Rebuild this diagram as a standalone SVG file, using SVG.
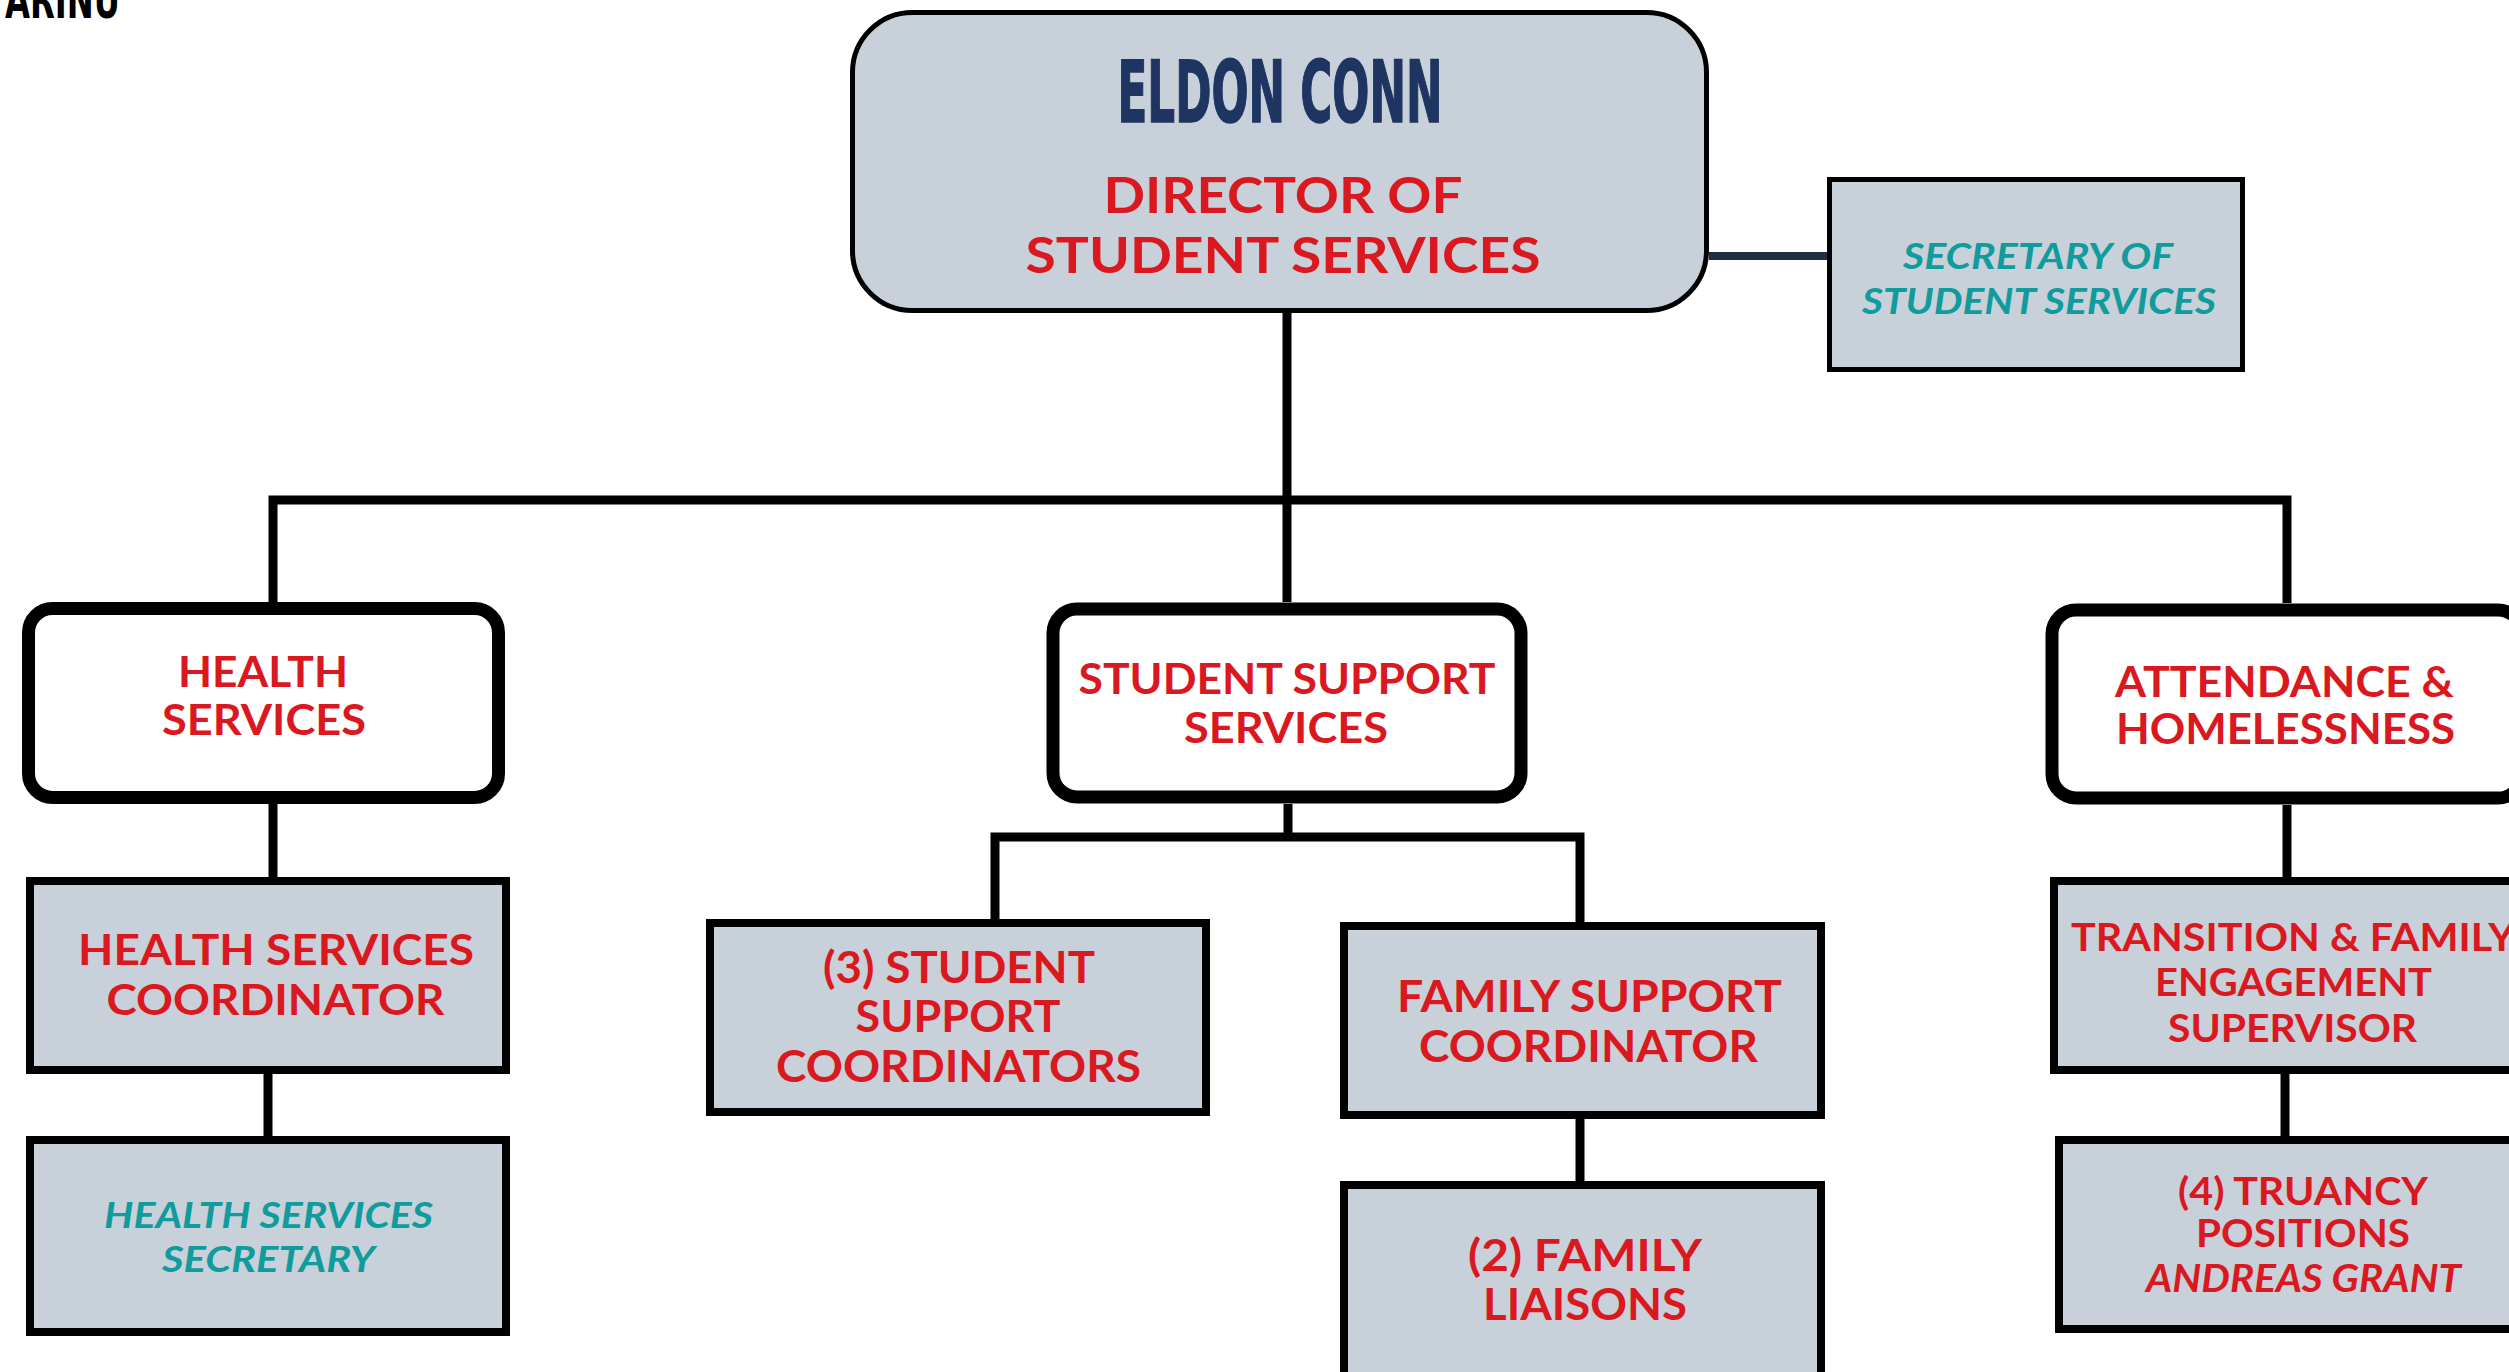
<svg xmlns="http://www.w3.org/2000/svg" width="2509" height="1372" viewBox="0 0 2509 1372">
<style>
.bg{fill:#ffffff}
.grey{fill:#c8d0d9;stroke:#000;}
.white{fill:#ffffff;stroke:#000;stroke-width:13}
.sq{stroke-width:8}
.lbl{font-family:Lato,"Open Sans","Liberation Sans",sans-serif;font-weight:bold;fill:#da1820;text-anchor:middle}
.teal{font-family:Lato,"Open Sans","Liberation Sans",sans-serif;font-weight:bold;font-style:italic;fill:#109b9c;text-anchor:middle}
.conn{fill:none;stroke:#000;stroke-width:9;stroke-linejoin:miter}
</style>
<rect class="bg" x="0" y="0" width="2509" height="1372"/>
<text x="5" y="18" font-family="'DejaVu Sans Condensed','Liberation Sans',sans-serif" font-weight="bold" font-size="52" textLength="115" lengthAdjust="spacingAndGlyphs" fill="#000">ARINU</text>

<g id="connectors">
  <path class="conn" d="M1287,313 V602"/>
  <path class="conn" d="M273,602 V500 H2287 V603"/>
  <path class="conn" d="M273,804 V877"/>
  <path class="conn" d="M268,1074 V1136"/>
  <path class="conn" d="M1288,804 V837"/>
  <path class="conn" d="M995,919 V837 H1580 V922"/>
  <path class="conn" d="M1580,1119 V1181"/>
  <path class="conn" d="M2287,805 V877"/>
  <path class="conn" d="M2285,1074 V1136"/>
  <path d="M1709,256 H1827" fill="none" stroke="#1d2e45" stroke-width="8"/>
</g>

<g id="director">
  <rect class="grey" x="852.5" y="12.5" width="854" height="298" rx="60" stroke-width="5"/>
  <text x="1280" y="122" font-family="'DejaVu Sans Condensed','Liberation Sans',sans-serif" font-weight="bold" font-size="86" textLength="325" lengthAdjust="spacingAndGlyphs" fill="#1e3461" stroke="#1e3461" stroke-width="1.5" text-anchor="middle">ELDON CONN</text>
  <text class="lbl" x="1283" y="213" font-size="50" font-weight="600" textLength="359" lengthAdjust="spacingAndGlyphs">DIRECTOR OF</text>
  <text class="lbl" x="1283" y="273" font-size="50" font-weight="600" textLength="515" lengthAdjust="spacingAndGlyphs">STUDENT SERVICES</text>
</g>

<g id="secretary">
  <rect class="grey" x="1829.5" y="179.5" width="413" height="190" stroke-width="5"/>
  <text class="teal" x="2038" y="269" font-size="36" textLength="270" lengthAdjust="spacingAndGlyphs">SECRETARY OF</text>
  <text class="teal" x="2039" y="314" font-size="36" textLength="354" lengthAdjust="spacingAndGlyphs">STUDENT SERVICES</text>
</g>

<g id="health-services">
  <rect class="white" x="28.5" y="608.5" width="470" height="189" rx="24"/>
  <text class="lbl" x="263" y="687" font-size="42" textLength="170" lengthAdjust="spacingAndGlyphs">HEALTH</text>
  <text class="lbl" x="264" y="735" font-size="42" textLength="204" lengthAdjust="spacingAndGlyphs">SERVICES</text>
</g>

<g id="student-support-services">
  <rect class="white" x="1053" y="609" width="468" height="188" rx="24" stroke-width="14"/>
  <text class="lbl" x="1287" y="694" font-size="42" textLength="417" lengthAdjust="spacingAndGlyphs">STUDENT SUPPORT</text>
  <text class="lbl" x="1286" y="743" font-size="42" textLength="204" lengthAdjust="spacingAndGlyphs">SERVICES</text>
</g>

<g id="attendance">
  <rect class="white" x="2052" y="610" width="470" height="188" rx="24" stroke-width="14"/>
  <text class="lbl" x="2284.5" y="697" font-size="42" textLength="339" lengthAdjust="spacingAndGlyphs">ATTENDANCE &amp;</text>
  <text class="lbl" x="2285.5" y="744" font-size="42" textLength="339" lengthAdjust="spacingAndGlyphs">HOMELESSNESS</text>
</g>

<g id="health-coordinator">
  <rect class="grey sq" x="30" y="881" width="476" height="189"/>
  <text class="lbl" x="276" y="965" font-size="42" textLength="396" lengthAdjust="spacingAndGlyphs">HEALTH SERVICES</text>
  <text class="lbl" x="275.5" y="1015" font-size="42" textLength="338" lengthAdjust="spacingAndGlyphs">COORDINATOR</text>
</g>

<g id="health-secretary">
  <rect class="grey sq" x="30" y="1140" width="476" height="192"/>
  <text class="teal" x="268.5" y="1228" font-size="37" textLength="329" lengthAdjust="spacingAndGlyphs">HEALTH SERVICES</text>
  <text class="teal" x="268.5" y="1272" font-size="37" textLength="213" lengthAdjust="spacingAndGlyphs">SECRETARY</text>
</g>

<g id="student-support-coordinators">
  <rect class="grey sq" x="710" y="923" width="496" height="189"/>
  <text class="lbl" x="959" y="983" font-size="43" textLength="272" lengthAdjust="spacingAndGlyphs">(3) STUDENT</text>
  <text class="lbl" x="958" y="1032" font-size="43" textLength="205" lengthAdjust="spacingAndGlyphs">SUPPORT</text>
  <text class="lbl" x="958.5" y="1082" font-size="43" textLength="365" lengthAdjust="spacingAndGlyphs">COORDINATORS</text>
</g>

<g id="family-support-coordinator">
  <rect class="grey sq" x="1344" y="926" width="477" height="189"/>
  <text class="lbl" x="1589.5" y="1012" font-size="44" textLength="385" lengthAdjust="spacingAndGlyphs">FAMILY SUPPORT</text>
  <text class="lbl" x="1588.5" y="1062" font-size="44" textLength="339" lengthAdjust="spacingAndGlyphs">COORDINATOR</text>
</g>

<g id="family-liaisons">
  <rect class="grey sq" x="1344" y="1185" width="477" height="220"/>
  <text class="lbl" x="1585" y="1271" font-size="44" textLength="234" lengthAdjust="spacingAndGlyphs">(2) FAMILY</text>
  <text class="lbl" x="1585" y="1320" font-size="44" textLength="204" lengthAdjust="spacingAndGlyphs">LIAISONS</text>
</g>

<g id="transition-supervisor">
  <rect class="grey sq" x="2054" y="881" width="500" height="189"/>
  <text class="lbl" x="2293" y="951" font-size="38" textLength="444" lengthAdjust="spacingAndGlyphs">TRANSITION &amp; FAMILY</text>
  <text class="lbl" x="2293.5" y="996" font-size="38" textLength="277" lengthAdjust="spacingAndGlyphs">ENGAGEMENT</text>
  <text class="lbl" x="2292.5" y="1042" font-size="38" textLength="249" lengthAdjust="spacingAndGlyphs">SUPERVISOR</text>
</g>

<g id="truancy">
  <rect class="grey sq" x="2059" y="1140" width="500" height="189"/>
  <text class="lbl" x="2303" y="1205" font-size="39" textLength="250" lengthAdjust="spacingAndGlyphs">(4) TRUANCY</text>
  <text class="lbl" x="2303" y="1247" font-size="39" textLength="214" lengthAdjust="spacingAndGlyphs">POSITIONS</text>
  <text class="lbl" x="2303.5" y="1292" font-size="39" font-style="italic" textLength="315" lengthAdjust="spacingAndGlyphs">ANDREAS GRANT</text>
</g>
</svg>
